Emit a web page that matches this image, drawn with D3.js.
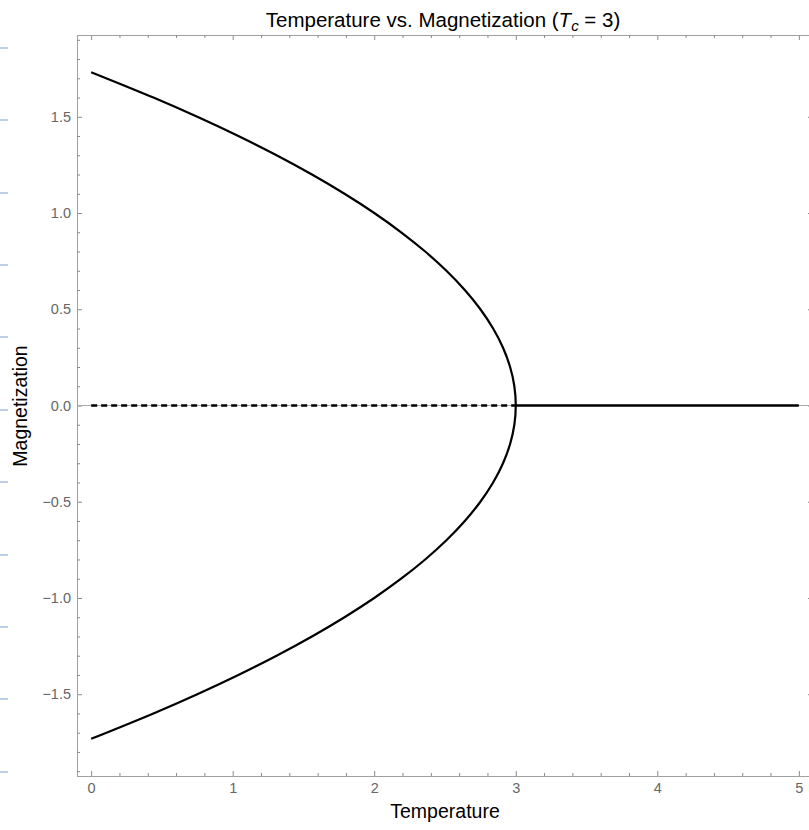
<!DOCTYPE html>
<html>
<head>
<meta charset="utf-8">
<script src="https://cdn.jsdelivr.net/npm/d3@7"></script>
<style>
  html, body { margin: 0; padding: 0; background: #fff; }
  svg { display: block; font-family: "Liberation Sans", Arial, Helvetica, sans-serif; }
</style>
</head>
<body>
<svg id="chart" width="809" height="830"></svg>
<script>
// ---- Data ----
// Upper (magnetized) branch: temperature vs magnetization
const upperTemp = [0.00, 0.44, 0.75, 1.04, 1.31, 1.56, 1.79, 2.00, 2.19, 2.36, 2.51, 2.64, 2.75, 2.84, 2.91, 2.96, 2.99, 3.00];
const upperMag  = [1.732, 1.60, 1.50, 1.40, 1.30, 1.20, 1.10, 1.00, 0.90, 0.80, 0.70, 0.60, 0.50, 0.40, 0.30, 0.20, 0.10, 0.00];
// Lower branch
const lowerTemp = [3.00, 2.99, 2.96, 2.91, 2.84, 2.75, 2.64, 2.51, 2.36, 2.19, 2.00, 1.79, 1.56, 1.31, 1.04, 0.75, 0.44, 0.00];
const lowerMag  = [0.00, -0.10, -0.20, -0.30, -0.40, -0.50, -0.60, -0.70, -0.80, -0.90, -1.00, -1.10, -1.20, -1.30, -1.40, -1.50, -1.60, -1.732];
// Unstable (dashed) zero solution below Tc, and stable zero solution above Tc
const unstableTemp = [0, 3];
const unstableMag = [0, 0];
const stableZeroTemp = [3, 5];
const stableZeroMag = [0, 0];
// Ticks
const xTicks = [0, 1, 2, 3, 4, 5];
const yTicks = [-1.5, -1.0, -0.5, 0.0, 0.5, 1.0, 1.5];

// ---- Layout ----
const svg = d3.select("#chart");
const padL = 77, padT = 35, padR = 813, padB = 776;
const x = d3.scaleLinear().domain([-0.1, 5.1]).range([padL, padR]);
const y = d3.scaleLinear().domain([-1.925, 1.925]).range([padB, padT]);

// decorative screenshot remnants at left edge
svg.append("g").selectAll("line")
  .data(d3.range(11))
  .join("line")
  .attr("x1", 0).attr("x2", 8)
  .attr("y1", i => Math.round(47.8 + i * 72.4)).attr("y2", i => Math.round(47.8 + i * 72.4))
  .attr("stroke", "#a9c1e2").attr("stroke-width", 1.5);

const frameColor = "#a0a0a0";
const tickColor = "#8a8a8a";

const xMinor = d3.range(0, 5.01, 0.2).map(v => +v.toFixed(2)).filter(v => Math.abs(v - Math.round(v)) > 1e-6);
const yMinor = d3.range(-1.9, 1.91, 0.1).map(v => +v.toFixed(2)).filter(v => Math.abs(v * 2 - Math.round(v * 2)) > 1e-6);

function fmtY(v) {
  const s = Math.abs(v).toFixed(1);
  return (v < -1e-9 ? "\u2212" : "") + s;
}

const MAJ = 5, MIN = 3;
// bottom axis
const gB = svg.append("g").attr("transform", `translate(0,${padB})`);
gB.call(d3.axisBottom(x).tickValues(xTicks).tickSizeInner(-MAJ).tickSizeOuter(0).tickPadding(7).tickFormat(d3.format("d")));
gB.append("g").call(d3.axisBottom(x).tickValues(xMinor).tickSizeInner(-MIN).tickSizeOuter(0).tickFormat(""));
// top axis
const gT = svg.append("g").attr("transform", `translate(0,${padT})`);
gT.call(d3.axisTop(x).tickValues(xTicks).tickSizeInner(-MAJ).tickSizeOuter(0).tickFormat(""));
gT.append("g").call(d3.axisTop(x).tickValues(xMinor).tickSizeInner(-MIN).tickSizeOuter(0).tickFormat(""));
// left axis
const gL = svg.append("g").attr("transform", `translate(${padL},0)`);
gL.call(d3.axisLeft(y).tickValues(yTicks).tickSizeInner(-MAJ).tickSizeOuter(0).tickPadding(6).tickFormat(fmtY));
gL.append("g").call(d3.axisLeft(y).tickValues(yMinor).tickSizeInner(-MIN).tickSizeOuter(0).tickFormat(""));
// right axis
const gR = svg.append("g").attr("transform", `translate(${padR},0)`);
gR.call(d3.axisRight(y).tickValues(yTicks).tickSizeInner(-MAJ).tickSizeOuter(0).tickFormat(""));
gR.append("g").call(d3.axisRight(y).tickValues(yMinor).tickSizeInner(-MIN).tickSizeOuter(0).tickFormat(""));

svg.selectAll(".domain").attr("stroke", frameColor).attr("stroke-width", 1);
svg.selectAll(".tick line").attr("stroke", tickColor).attr("stroke-width", 1);
svg.selectAll(".tick text").attr("fill", "#666").attr("font-size", 14.5)
  .attr("font-family", "'Liberation Sans', Arial, Helvetica, sans-serif");

// horizontal axis line at M = 0
svg.append("line")
  .attr("x1", padL).attr("x2", padR)
  .attr("y1", y(0)).attr("y2", y(0))
  .attr("stroke", "#aaa").attr("stroke-width", 1);

const line = d3.line().x(d => x(d[0])).y(d => y(d[1])).curve(d3.curveCatmullRom.alpha(0.5));
const lineStraight = d3.line().x(d => x(d[0])).y(d => y(d[1]));

const curvePts = upperTemp.map((t, i) => [t, upperMag[i]])
  .concat(lowerTemp.slice(1).map((t, i) => [t, lowerMag[i + 1]]));

svg.append("path")
  .attr("d", line(curvePts))
  .attr("fill", "none").attr("stroke", "#000").attr("stroke-width", 2.2);

svg.append("path")
  .attr("d", lineStraight(unstableTemp.map((t, i) => [t, unstableMag[i]])))
  .attr("fill", "none").attr("stroke", "#000").attr("stroke-width", 2.5)
  .attr("stroke-dasharray", "6,4");

svg.append("path")
  .attr("d", lineStraight(stableZeroTemp.map((t, i) => [t, stableZeroMag[i]])))
  .attr("fill", "none").attr("stroke", "#000").attr("stroke-width", 2.5);

// Title
const title = svg.append("text")
  .attr("x", 443).attr("y", 27)
  .attr("text-anchor", "middle")
  .attr("font-size", 20.5).attr("fill", "#000");
title.append("tspan").text("Temperature vs. Magnetization (");
title.append("tspan").attr("font-style", "italic").text("T");
title.append("tspan").attr("font-style", "italic").attr("font-size", 15).attr("dy", 4).text("c");
title.append("tspan").attr("dy", -4).text(" = 3)");

// Axis labels
svg.append("text")
  .attr("x", 445).attr("y", 818)
  .attr("text-anchor", "middle")
  .attr("font-size", 19.5).attr("fill", "#000")
  .text("Temperature");

svg.append("text")
  .attr("transform", `translate(27,406) rotate(-90)`)
  .attr("text-anchor", "middle")
  .attr("font-size", 19.5).attr("fill", "#000")
  .text("Magnetization");
</script>
</body>
</html>
